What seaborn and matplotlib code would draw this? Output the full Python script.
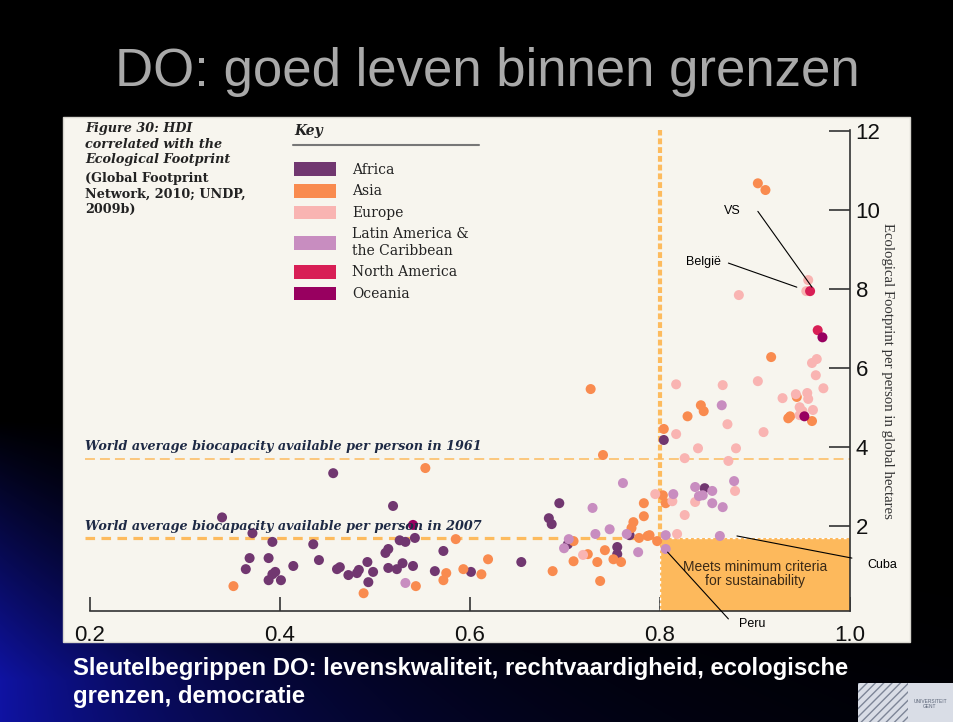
import matplotlib
matplotlib.use("Agg")
import matplotlib.pyplot as plt
import numpy as np
import pandas as pd
import seaborn as sns
from matplotlib.patches import Rectangle, Patch

# HDI (x) and ecological footprint in gha per person (y)
africa_hdi = [0.339, 0.456, 0.519, 0.371, 0.392, 0.435, 0.526, 0.532, 0.542, 0.368,
              0.388, 0.364, 0.414, 0.441, 0.395, 0.392, 0.388, 0.401, 0.460, 0.463,
              0.472, 0.481, 0.483, 0.492, 0.498, 0.493, 0.511, 0.514, 0.514, 0.523,
              0.529, 0.540, 0.572, 0.563, 0.601, 0.654, 0.694, 0.683, 0.686, 0.703,
              0.755, 0.755, 0.768, 0.804, 0.847]
africa_ef = [2.22, 3.34, 2.51, 1.82, 1.60, 1.54, 1.64, 1.60, 1.70, 1.19,
             1.19, 0.91, 0.99, 1.14, 0.84, 0.78, 0.63, 0.63, 0.91, 0.96,
             0.76, 0.81, 0.89, 1.09, 0.84, 0.58, 1.32, 1.42, 0.94, 0.91,
             1.06, 0.99, 1.37, 0.86, 0.84, 1.09, 2.58, 2.20, 2.05, 1.54,
             1.47, 1.29, 1.77, 4.18, 2.96]

asia_hdi = [0.553, 0.740, 0.727, 0.543, 0.351, 0.488, 0.783, 0.783, 0.772, 0.770,
            0.778, 0.787, 0.797, 0.585, 0.709, 0.724, 0.742, 0.751, 0.759, 0.734,
            0.709, 0.687, 0.737, 0.575, 0.572, 0.593, 0.612, 0.619, 0.843, 0.846,
            0.829, 0.804, 0.803, 0.806, 0.903, 0.911, 0.917, 0.944, 0.937, 0.935,
            0.960, 0.789]
asia_ef = [3.47, 3.80, 5.47, 0.48, 0.48, 0.30, 2.58, 2.25, 2.10, 1.95,
           1.70, 1.75, 1.62, 1.67, 1.62, 1.29, 1.39, 1.16, 1.09, 1.09,
           1.11, 0.86, 0.61, 0.81, 0.63, 0.91, 0.78, 1.16, 5.06, 4.91,
           4.78, 4.46, 2.78, 2.58, 10.68, 10.51, 6.28, 5.27, 4.78, 4.73,
           4.66, 1.77]

europe_hdi = [0.795, 0.719, 0.817, 0.866, 0.871, 0.817, 0.840, 0.880, 0.826, 0.872,
              0.879, 0.813, 0.837, 0.826, 0.818, 0.956, 0.954, 0.883, 0.965, 0.960,
              0.964, 0.972, 0.903, 0.929, 0.943, 0.955, 0.956, 0.947, 0.950, 0.961,
              0.947, 0.909]
europe_ef = [2.81, 1.27, 5.59, 5.57, 4.58, 4.33, 3.97, 3.97, 3.72, 3.65,
             2.89, 2.63, 2.61, 2.28, 1.80, 8.23, 7.95, 7.85, 6.23, 6.13,
             5.82, 5.49, 5.67, 5.24, 5.34, 5.37, 5.22, 5.01, 4.91, 4.94,
             4.81, 4.38]

latam_hdi = [0.532, 0.761, 0.729, 0.747, 0.732, 0.765, 0.704, 0.699, 0.777, 0.865,
             0.878, 0.837, 0.855, 0.841, 0.845, 0.814, 0.855, 0.866, 0.806, 0.863,
             0.806]
latam_ef = [0.56, 3.09, 2.46, 1.92, 1.80, 1.80, 1.67, 1.44, 1.34, 5.06,
            3.14, 2.99, 2.89, 2.76, 2.78, 2.81, 2.58, 2.48, 1.77, 1.75,
            1.42]

namerica_hdi = [0.958, 0.966]
namerica_ef = [7.95, 6.96]

oceania_hdi = [0.540, 0.971, 0.952]
oceania_ef = [2.03, 6.78, 4.78]

regions = ["Africa", "Asia", "Europe", "Latin America &\nthe Caribbean",
           "North America", "Oceania"]
region_colors = ["#713770", "#F98B4F", "#F9B4B2", "#C88DC0", "#D81E55", "#980060"]

biocap_1961 = 3.7
biocap_2007 = 1.7
hdi_threshold = 0.8

x_ticks = [0.2, 0.4, 0.6, 0.8, 1.0]
x_tick_labels = ["0.2", "0.4", "0.6", "0.8", "1.0"]
y_ticks = [2, 4, 6, 8, 10, 12]

frames = []
for name, xs, ys in zip(regions,
                        [africa_hdi, asia_hdi, europe_hdi, latam_hdi, namerica_hdi, oceania_hdi],
                        [africa_ef, asia_ef, europe_ef, latam_ef, namerica_ef, oceania_ef]):
    frames.append(pd.DataFrame({"hdi": xs, "footprint": ys, "region": name}))
df = pd.concat(frames, ignore_index=True)
palette = dict(zip(regions, region_colors))

sns.set_theme(style="white")
plt.rcParams["font.family"] = ["Liberation Sans", "DejaVu Sans"]

W, H = 954, 722
fig = plt.figure(figsize=(W / 100, H / 100), dpi=100, facecolor="black")

# slide background: black with a blue swoosh in the lower left
bg = fig.add_axes([0, 0, 1, 1], zorder=0)
gx, gy = np.meshgrid(np.arange(W), np.arange(H))
ramp = np.clip((gy - 420) / 260, 0, 1)
inten = 0.75 * ramp * np.exp(-gx / (60 + (gy - 420).clip(0) * 0.8))
grad = np.zeros((H, W, 3))
grad[..., 0] = 0.08 * inten
grad[..., 1] = 0.10 * inten
grad[..., 2] = 0.85 * inten
bg.imshow(grad, extent=[0, W, H, 0], aspect="auto")
bg.set_xlim(0, W)
bg.set_ylim(H, 0)
bg.axis("off")

cream = "#F7F5EE"
bg.add_patch(Rectangle((63, 117), 847, 525, facecolor=cream, edgecolor="#d8d6cf", lw=1))
bg.add_patch(Rectangle((858, 683), 96, 39, facecolor="#d9dde6", edgecolor="none"))
bg.add_patch(Rectangle((858, 683), 50, 39, facecolor="none", edgecolor="#7d8597",
                       hatch="////", lw=0))
bg.text(930, 704, "UNIVERSITEIT\nGENT", fontsize=3.5, color="#5b6477",
        ha="center", va="center")

bg.text(487, 72, "DO: goed leven binnen grenzen", fontsize=38, color="#A9A9A9",
        ha="center", va="center")
bg.text(73, 668, "Sleutelbegrippen DO: levenskwaliteit, rechtvaardigheid, ecologische",
        fontsize=17.2, color="white", weight="bold", va="center")
bg.text(73, 697, "grenzen, democratie", fontsize=17.2, color="white", weight="bold",
        va="center")

# figure caption and key
serif = ["DejaVu Serif"]
bg.text(85, 122, "Figure 30: HDI\ncorrelated with the\nEcological Footprint",
        family=serif, style="italic", weight="bold", fontsize=9.2, color="#222222",
        va="top", linespacing=1.27)
bg.text(85, 172, "(Global Footprint\nNetwork, 2010; UNDP,\n2009b)",
        family=serif, weight="bold", fontsize=9.2, color="#222222",
        va="top", linespacing=1.27)
bg.text(294, 131, "Key", family=serif, style="italic", weight="bold", fontsize=10,
        color="#222222", va="center")
bg.plot([293, 479], [145, 145], color="#777777", lw=1.5)

ax = fig.add_axes([90 / W, 1 - 611 / H, 760 / W, 481 / H], zorder=2)
ax.set_facecolor("none")
y_bottom = -0.15
ax.set_xlim(0.2, 1.0)
ax.set_ylim(y_bottom, 12.03)

line_col = "#FDBB5E"
ax.add_patch(Rectangle((hdi_threshold, y_bottom), 1.0 - hdi_threshold, biocap_2007 - y_bottom,
                       facecolor="#FDB95C", edgecolor="none", zorder=1))
ax.plot([hdi_threshold, 1.0], [biocap_2007, biocap_2007], color="white", lw=1,
        ls=(0, (2, 2)), zorder=1.5)
ax.plot([hdi_threshold, hdi_threshold], [y_bottom, biocap_2007], color="white", lw=1,
        ls=(0, (2, 2)), zorder=1.5)
ax.plot([0.195, 1.0], [biocap_1961, biocap_1961], color=line_col, lw=1.1,
        dashes=(6.5, 3.3), clip_on=False, zorder=1)
ax.plot([0.195, hdi_threshold], [biocap_2007, biocap_2007], color=line_col, lw=2.3,
        dashes=(3, 2), clip_on=False, zorder=1)
ax.plot([hdi_threshold, hdi_threshold], [biocap_2007, 12.03], color=line_col, lw=3,
        dashes=(1.4, 0.7), zorder=1)

sns.scatterplot(data=df, x="hdi", y="footprint", hue="region", palette=palette,
                s=52, linewidth=0, legend=False, ax=ax, zorder=3)

txt_col = "#1E2A45"
ax.text(0.195, biocap_1961 + 0.14, "World average biocapacity available per person in 1961",
        family=serif, style="italic", weight="bold", fontsize=9.2, color=txt_col, va="bottom")
ax.text(0.195, biocap_2007 + 0.12, "World average biocapacity available per person in 2007",
        family=serif, style="italic", weight="bold", fontsize=9.2, color=txt_col, va="bottom")
ax.text(0.9, 0.78, "Meets minimum criteria\nfor sustainability", fontsize=10,
        color="#3b2a17", ha="center", va="center", linespacing=1.0, zorder=4)

# labelled countries
ax.plot([0.903, 0.960], [9.97, 8.05], color="black", lw=0.8, zorder=4)
ax.text(0.876, 9.97, "VS", fontsize=9, color="black", ha="center", va="center")
ax.plot([0.872, 0.944], [8.66, 8.05], color="black", lw=0.8, zorder=4)
ax.text(0.846, 8.68, "België", fontsize=9, color="black", ha="center", va="center")
ax.plot([0.881, 1.002], [1.75, 1.19], color="black", lw=0.8, zorder=4, clip_on=False)
ax.text(1.034, 1.02, "Cuba", fontsize=9, color="black", ha="center", va="center")
ax.plot([0.808, 0.872], [1.34, -0.35], color="black", lw=0.8, zorder=4, clip_on=False)
ax.text(0.897, -0.48, "Peru", fontsize=9, color="black", ha="center", va="center")

for side in ["top", "left"]:
    ax.spines[side].set_visible(False)
for side in ["bottom", "right"]:
    ax.spines[side].set_color("#333333")
    ax.spines[side].set_linewidth(1.2)
ax.set_xticks(x_ticks)
ax.set_xticklabels(x_tick_labels)
ax.set_yticks(y_ticks)
ax.yaxis.tick_right()
ax.tick_params(axis="x", direction="in", length=10, width=1.2, color="#333333",
               labelsize=16, labelcolor="#111111", pad=10, bottom=True)
ax.tick_params(axis="y", direction="in", length=15, width=1.2, color="#333333",
               labelsize=16, labelcolor="#111111", pad=4, right=True, left=False)
ax.set_xlabel("")
ax.yaxis.set_label_position("right")
ax.set_ylabel("Ecological Footprint per person in global hectares", family=["Liberation Serif"],
              fontsize=10.6, color="#333333", rotation=270, labelpad=10)
for lab in ax.get_yticklabels():
    lab.set_ha("left")

handles = [Patch(facecolor=c, edgecolor="none") for c in region_colors]
fig.legend(handles, regions, loc="upper left", bbox_to_anchor=(294 / W, 1 - 162 / H),
           frameon=False, prop={"family": serif, "size": 10}, handlelength=3.0,
           handleheight=1.15, handletextpad=1.2, labelspacing=0.52, borderpad=0,
           borderaxespad=0, labelcolor="#222222")

fig.savefig("out.png", dpi=100, facecolor="black")
